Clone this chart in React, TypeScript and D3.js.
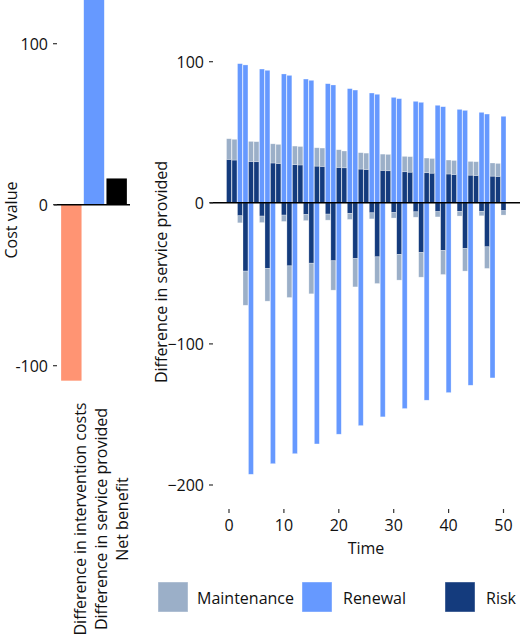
import * as d3 from "d3";

// left panel: cost summary
const summaryLabels = [
  "Difference in intervention costs",
  "Difference in service provided",
  "Net benefit",
];
const summaryValues = [-109.3, 128, 16.3];
const summaryColors = ["#ff9473", "#6699ff", "#000000"];
const summaryTicks = [-100, 0, 100];

// right panel: positive maintenance / risk stacks
const posStackTimes = [0, 1, 4, 5, 8, 9, 12, 13, 16, 17, 20, 21, 24, 25, 28, 29, 32, 33, 36, 37, 40, 41, 44, 45, 48, 49];
const posRisk = [30.8, 30.3, 29.3, 29.1, 28.2, 27.9, 27, 26.8, 26, 25.8, 25.1, 24.8, 23.9, 23.6, 23, 22.7, 22, 21.7, 21.3, 21, 20.4, 20.1, 19.6, 19.4, 18.9, 18.7];
const posMaint = [14.6, 14.7, 14.2, 14.2, 13.6, 13.5, 13.2, 13.1, 13, 13, 12.5, 11.9, 11.6, 11.6, 11.5, 11.6, 10.9, 11, 10.4, 10.4, 9.9, 9.9, 9.7, 9.7, 9.3, 9.2];

// positive renewal
const posRenewTimes = [2, 3, 6, 7, 10, 11, 14, 15, 18, 19, 22, 23, 26, 27, 30, 31, 34, 35, 38, 39, 42, 43, 46, 47, 50];
const posRenew = [98.6, 97.7, 94.8, 93.9, 91.3, 90.3, 87.7, 86.8, 84.4, 83.5, 80.9, 79.9, 77.8, 76.9, 74.7, 73.8, 71.9, 71.2, 69.1, 68.1, 66.2, 65.5, 64.1, 62.9, 61.3];

// negative maintenance / risk stacks
const negStackTimes = [2, 3, 6, 7, 10, 11, 14, 15, 18, 19, 22, 23, 26, 27, 30, 31, 34, 35, 38, 39, 42, 43, 46, 47, 50];
const negRisk = [-9.2, -48.4, -9.4, -46.5, -8.7, -44.7, -8.3, -42.8, -8.0, -41.1, -7.5, -39.5, -7.1, -38.3, -6.9, -36.6, -6.4, -35.2, -6.3, -33.8, -6.1, -32.4, -6.0, -31.2, -5.6];
const negMaint = [-5.0, -24.2, -4.6, -23.2, -4.5, -22.4, -4.3, -21.7, -4.3, -20.8, -4.3, -20.1, -4.3, -18.9, -3.9, -18.2, -3.8, -17.5, -3.7, -17.0, -3.3, -16.0, -3.2, -15.3, -3.1];

// negative renewal
const negRenewTimes = [4, 8, 12, 16, 20, 24, 28, 32, 36, 40, 44, 48];
const negRenew = [-192.4, -184.9, -177.8, -170.9, -164, -157.9, -151.7, -145.8, -139.9, -134.5, -129.3, -124.1];

const timeTicks = [0, 10, 20, 30, 40, 50];
const serviceTicks = [-200, -100, 0, 100];

const legendKeys = ["Maintenance", "Renewal", "Risk"];
const legendColors = ["#9bafc8", "#6699ff", "#143b7d"];

const FONT = "'Open Sans', 'Noto Sans', sans-serif";
const FS = 16;
const TEXT = "#111111";
const TICK = "#333333";

export default function App() {
  // left scales
  const yL = d3.scaleLinear().domain([-100, 100]).range([365.7, 43.7]);
  const xL = d3
    .scaleBand<string>()
    .domain(summaryLabels)
    .range([60, 128])
    .paddingInner(0.1)
    .paddingOuter(0.05);
  const xLabel = d3.scalePoint<string>().domain(summaryLabels).range([80, 121.7]);

  // right scales
  const xR = d3.scaleLinear().domain([0, 50]).range([229, 503.5]);
  const yR = d3.scaleLinear().domain([-200, 100]).range([485, 61.7]);
  const barW = (xR(1) - xR(0)) * 0.9;

  const bar = (
    key: string,
    t: number,
    y0: number,
    y1: number,
    fill: string
  ) => {
    const a = yR(y0);
    const b = yR(y1);
    return (
      <rect
        key={key}
        x={xR(t) - barW / 2}
        y={Math.min(a, b)}
        width={barW}
        height={Math.abs(a - b)}
        fill={fill}
        stroke="#ffffff"
        strokeOpacity={0.45}
        strokeWidth={0.6}
      />
    );
  };

  const legendX = [158, 302, 445];
  const legendTextX = [197, 343, 486];

  return (
    <svg
      width={520}
      height={635}
      style={{ position: "absolute", left: 0, top: 0 }}
      fontFamily={FONT}
    >
      {/* Left panel */}
      <g>
        {summaryLabels.map((lab, i) => {
          const v = summaryValues[i];
          return (
            <rect
              key={lab}
              x={xL(lab)}
              y={Math.min(yL(0), yL(v))}
              width={xL.bandwidth()}
              height={Math.abs(yL(v) - yL(0))}
              fill={summaryColors[i]}
            />
          );
        })}
        <line x1={54} x2={130} y1={yL(0)} y2={yL(0)} stroke="#000" strokeWidth={1.5} />
        {summaryTicks.map((t) => (
          <g key={t} transform={`translate(0, ${yL(t)})`}>
            <line x1={53} x2={57} stroke={TICK} strokeWidth={1.2} />
            <text x={48} textAnchor="end" dominantBaseline="central" fontSize={FS} fill={TEXT}>
              {t < 0 ? `-${Math.abs(t)}` : t}
            </text>
          </g>
        ))}
        <text
          transform={`translate(10.5, 220) rotate(-90)`}
          textAnchor="middle"
          dominantBaseline="central"
          fontSize={FS}
          fill={TEXT}
        >
          Cost value
        </text>
        {summaryLabels.map((lab) => (
          <text
            key={lab}
            transform={`translate(${xLabel(lab)}, 519) rotate(-90)`}
            textAnchor="middle"
            dominantBaseline="central"
            fontSize={FS}
            fill={TEXT}
          >
            {lab}
          </text>
        ))}
      </g>

      {/* Right panel */}
      <g>
        {posStackTimes.map((t, i) => (
          <g key={`ps${t}`}>
            {bar(`pr${t}`, t, 0, posRisk[i], legendColors[2])}
            {bar(`pm${t}`, t, posRisk[i], posRisk[i] + posMaint[i], legendColors[0])}
          </g>
        ))}
        {negStackTimes.map((t, i) => (
          <g key={`ns${t}`}>
            {bar(`nr${t}`, t, 0, negRisk[i], legendColors[2])}
            {bar(`nm${t}`, t, negRisk[i], negRisk[i] + negMaint[i], legendColors[0])}
          </g>
        ))}
        {posRenewTimes.map((t, i) => bar(`pw${t}`, t, 0, posRenew[i], legendColors[1]))}
        {negRenewTimes.map((t, i) => bar(`nw${t}`, t, 0, negRenew[i], legendColors[1]))}

        <line x1={210} x2={520} y1={yR(0)} y2={yR(0)} stroke="#000" strokeWidth={1.5} />

        {serviceTicks.map((t) => (
          <g key={t} transform={`translate(0, ${yR(t)})`}>
            <line x1={209} x2={213} stroke={TICK} strokeWidth={1.2} />
            <text x={204} textAnchor="end" dominantBaseline="central" fontSize={FS} fill={TEXT}>
              {t < 0 ? `\u2212${Math.abs(t)}` : t}
            </text>
          </g>
        ))}
        {timeTicks.map((t) => (
          <g key={t} transform={`translate(${xR(t)}, 0)`}>
            <line y1={509} y2={513} stroke={TICK} strokeWidth={1.2} />
            <text y={525} textAnchor="middle" dominantBaseline="central" fontSize={FS} fill={TEXT}>
              {t}
            </text>
          </g>
        ))}
        <text x={366} y={548} textAnchor="middle" dominantBaseline="central" fontSize={FS} fill={TEXT}>
          Time
        </text>
        <text
          transform={`translate(161, 272) rotate(-90)`}
          textAnchor="middle"
          dominantBaseline="central"
          fontSize={FS}
          fill={TEXT}
        >
          Difference in service provided
        </text>
      </g>

      {/* Legend */}
      {legendKeys.map((k, i) => (
        <g key={k}>
          <rect
            x={legendX[i]}
            y={582}
            width={30}
            height={30}
            fill={legendColors[i]}
            stroke="#ffffff"
            strokeOpacity={0.5}
            strokeWidth={0.8}
          />
          <text x={legendTextX[i]} y={598} dominantBaseline="central" fontSize={FS} fill={TEXT}>
            {k}
          </text>
        </g>
      ))}
    </svg>
  );
}
